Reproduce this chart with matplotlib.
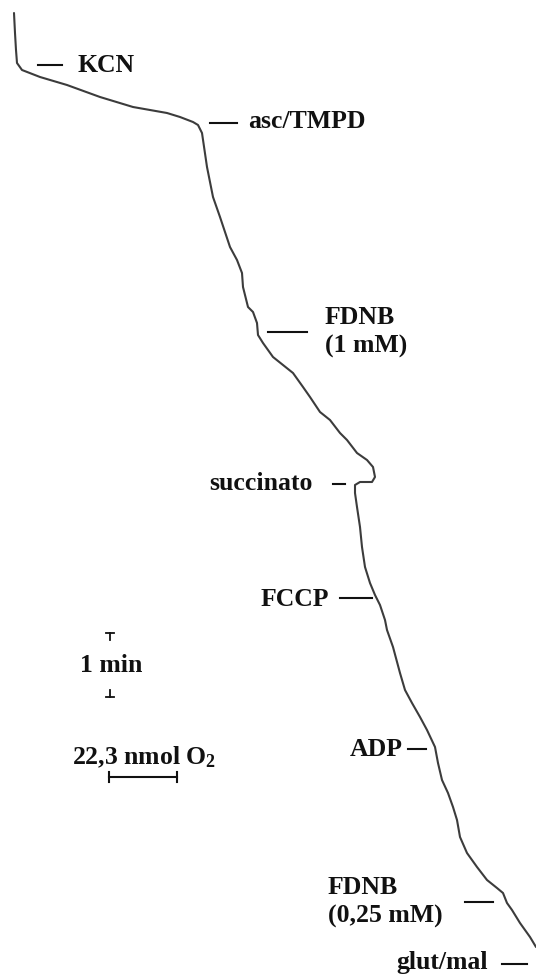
import matplotlib
matplotlib.use("Agg")
import matplotlib.pyplot as plt

# ---- data (oxygen trace, chart units: x = O2 signal, y = time) ----
trace_x = [14, 15, 16, 17, 22, 40, 67, 100, 133, 167, 180, 193, 198, 202, 207, 213, 220,
           230, 237, 242, 243, 248, 253, 257, 258, 263, 273, 283, 293, 303, 310, 320, 330,
           340, 347, 357, 367, 373, 375, 372, 360, 355, 355, 357, 360, 362, 365, 370, 375,
           380, 385, 387, 393, 400, 405, 412, 420, 427, 435, 438, 442, 448, 453, 457, 460,
           467, 477, 487, 497, 503, 507, 512, 520, 530, 536]
trace_y = [13, 33, 50, 63, 70, 77, 85, 97, 107, 113, 117, 122, 125, 133, 167, 197, 217,
           247, 260, 273, 287, 307, 312, 323, 335, 343, 357, 365, 373, 387, 397, 412, 420,
           433, 440, 453, 460, 467, 477, 482, 482, 485, 493, 507, 527, 547, 567, 583, 595,
           605, 620, 630, 647, 673, 690, 703, 717, 730, 747, 763, 780, 793, 807, 820, 837,
           853, 867, 880, 888, 893, 903, 910, 923, 937, 947]

# additions: label lines, marker dash (x0, x1, y)
labels = ["KCN", "asc/TMPD", "FDNB\n(1 mM)", "succinato", "FCCP", "ADP",
          "FDNB\n(0,25 mM)", "glut/mal"]
dash_x0 = [38, 210, 268, 333, 340, 408, 465, 502]
dash_x1 = [62, 237, 307, 345, 372, 426, 493, 527]
dash_y = [65, 123, 332, 484, 598, 749, 902, 964]

# scale bars
time_scale_label = "1 min"
o2_scale_label = "22,3 nmol O$_2$"
time_bar = (633, 697)   # y extent of 1 min
o2_bar = (109, 177)     # x extent of 22.3 nmol

plt.rcParams['mathtext.fontset'] = 'custom'
plt.rcParams['mathtext.rm'] = 'Liberation Serif:bold'
plt.rcParams['mathtext.it'] = 'Liberation Serif:bold'

fig = plt.figure(figsize=(5.36, 9.74), dpi=100)
ax = fig.add_axes([0, 0, 1, 1])
ax.set_xlim(0, 536)
ax.set_ylim(974, 0)
ax.axis('off')

ax.plot(trace_x, trace_y, color='#3c3c3c', lw=1.5, solid_joinstyle='round',
        solid_capstyle='round')

fs = 18.5
font = dict(family='Liberation Serif', weight='bold', fontsize=fs, color='#111111')

for x0, x1, y in zip(dash_x0, dash_x1, dash_y):
    ax.plot([x0, x1], [y, y], color='#111111', lw=1.5)

ax.text(78, 65, labels[0], ha='left', va='center', **font)
ax.text(248, 122, labels[1], ha='left', va='center', **font)
l1, l2 = labels[2].split("\n")
ax.text(325, 318, l1, ha='left', va='center', **font)
ax.text(325, 346, l2, ha='left', va='center', **font)
ax.text(313, 484, labels[3], ha='right', va='center', **font)
ax.text(329, 599, labels[4], ha='right', va='center', **font)
ax.text(403, 750, labels[5], ha='right', va='center', **font)
l1, l2 = labels[6].split("\n")
ax.text(328, 887, l1, ha='left', va='center', **font)
ax.text(328, 916, l2, ha='left', va='center', **font)
ax.text(488, 962, labels[7], ha='right', va='center', **font)

# time scale marker
tx = 110
ax.plot([tx - 4, tx + 4], [time_bar[0], time_bar[0]], color='#111111', lw=1.3)
ax.plot([tx, tx], [time_bar[0], time_bar[0] + 7], color='#111111', lw=1.3)
ax.plot([tx - 4, tx + 4], [time_bar[1], time_bar[1]], color='#111111', lw=1.3)
ax.plot([tx, tx], [time_bar[1] - 7, time_bar[1]], color='#111111', lw=1.3)
ax.text(80, 665, time_scale_label, ha='left', va='center', **font)

# O2 scale bar
ax.plot([o2_bar[0], o2_bar[1]], [777, 777], color='#111111', lw=1.5)
ax.plot([o2_bar[0], o2_bar[0]], [772, 782], color='#111111', lw=1.5)
ax.plot([o2_bar[1], o2_bar[1]], [772, 782], color='#111111', lw=1.5)
ax.text(72, 757, o2_scale_label, ha='left', va='center', **font)

fig.savefig('out.png', dpi=100, facecolor='white')
